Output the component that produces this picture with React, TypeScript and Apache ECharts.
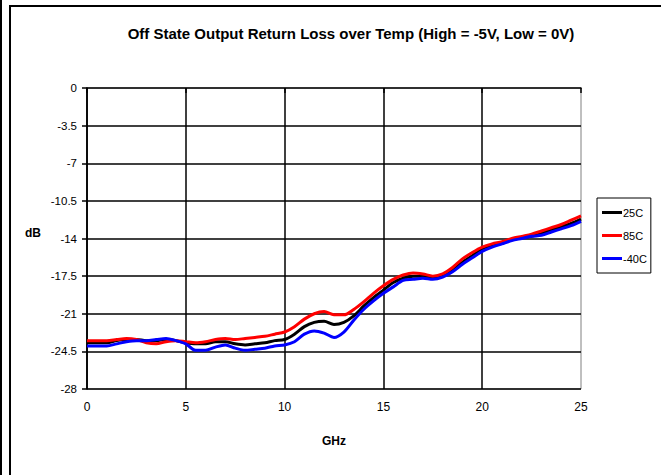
import React, { useEffect, useRef } from "react";
import * as echarts from "echarts";

const freqGHz = [
  0, 0.5, 1, 1.5, 2, 2.5, 3, 3.5, 4, 4.5, 5, 5.5, 6, 6.5, 7, 7.5, 8, 8.5, 9, 9.5,
  10, 10.5, 11, 11.5, 12, 12.5, 13, 13.5, 14, 14.5, 15, 15.5, 16, 16.5, 17, 17.5,
  18, 18.5, 19, 19.5, 20, 20.5, 21, 21.5, 22, 22.5, 23, 23.5, 24, 24.5, 25,
];

const s25C = [
  -23.7, -23.7, -23.7, -23.5, -23.4, -23.4, -23.5, -23.5, -23.4, -23.5, -23.7, -23.8, -23.8, -23.6, -23.6, -23.8, -23.9, -23.8, -23.7, -23.5,
  -23.4, -22.9, -22.2, -21.8, -21.7, -22.0, -21.8, -21.2, -20.3, -19.5, -18.8, -18.1, -17.7, -17.5, -17.5, -17.7,
  -17.5, -16.9, -16.2, -15.6, -15.0, -14.7, -14.4, -14.1, -13.9, -13.8, -13.5, -13.2, -12.9, -12.6, -12.2,
];

const s85C = [
  -23.5, -23.5, -23.5, -23.4, -23.3, -23.4, -23.7, -23.8, -23.6, -23.5, -23.6, -23.7, -23.6, -23.4, -23.3, -23.4, -23.3, -23.2, -23.1, -22.9,
  -22.7, -22.2, -21.5, -21.0, -20.8, -21.1, -21.1, -20.6, -19.9, -19.1, -18.4, -17.8, -17.4, -17.2, -17.3, -17.5,
  -17.3, -16.7, -15.9, -15.3, -14.8, -14.5, -14.3, -14.0, -13.8, -13.6, -13.3, -13.0, -12.7, -12.3, -11.9,
];

const sMinus40C = [
  -24.0, -24.0, -24.0, -23.8, -23.6, -23.5, -23.5, -23.4, -23.3, -23.5, -23.8, -24.4, -24.4, -24.1, -23.9, -24.2, -24.4, -24.3, -24.2, -24.0,
  -23.9, -23.6, -22.9, -22.6, -22.8, -23.2, -22.7, -21.6, -20.6, -19.8, -19.1, -18.5, -17.9, -17.8, -17.7, -17.8,
  -17.6, -17.1, -16.4, -15.8, -15.2, -14.8, -14.5, -14.2, -14.0, -13.8, -13.7, -13.4, -13.1, -12.8, -12.4,
];

const seriesNames = ["25C", "85C", "-40C"];
const seriesColors = ["#000000", "#ff0000", "#0000ff"];
const seriesValues = [s25C, s85C, sMinus40C];

const titleText = "Off State Output Return Loss over Temp (High = -5V, Low = 0V)";
const xName = "GHz";
const yName = "dB";

const FONT = "Liberation Sans, Arial, sans-serif";

export default function App() {
  const ref = useRef<HTMLDivElement>(null);

  useEffect(() => {
    if (!ref.current) return;
    const chart = echarts.init(ref.current, null, { renderer: "svg" });
    const series = seriesNames.map((name, i) => ({
      name,
      type: "line",
      symbol: "none",
      smooth: 0.3,
      data: freqGHz.map((f, j) => [f, seriesValues[i][j]]),
      lineStyle: { color: seriesColors[i], width: 3 },
      itemStyle: { color: seriesColors[i] },
      z: 3 + i,
    }));

    chart.setOption({
      animation: false,
      backgroundColor: "#ffffff",
      textStyle: { fontFamily: FONT },
      title: {
        text: titleText,
        left: 346,
        top: 21,
        textAlign: "center",
        textStyle: { fontFamily: FONT, fontSize: 15, fontWeight: "bold", color: "#000" },
      },
      grid: {
        left: 87,
        top: 88,
        width: 494,
        height: 301,
        show: true,
        borderColor: "#808080",
        borderWidth: 1,
        backgroundColor: "transparent",
      },
      legend: {
        orient: "vertical",
        left: 597,
        top: 198,
        data: seriesNames,
        icon: "rect",
        itemWidth: 20,
        itemHeight: 3,
        itemGap: 12,
        padding: [9, 4, 9, 5],
        borderColor: "#000",
        borderWidth: 1,
        backgroundColor: "#fff",
        textStyle: { fontFamily: FONT, fontSize: 11, color: "#000", padding: [0, 0, 0, -4] },
      },
      xAxis: {
        type: "value",
        min: 0,
        max: 25,
        interval: 5,
        axisLine: { show: true, lineStyle: { color: "#000", width: 1.5 } },
        axisTick: { show: true, length: 5, lineStyle: { color: "#000", width: 1.5 } },
        axisLabel: { fontFamily: FONT, fontSize: 12, color: "#000", margin: 12 },
        splitLine: { show: true, showMaxLine: false, lineStyle: { color: "#000", width: 1.5 } },
      },
      yAxis: {
        type: "value",
        min: -28,
        max: 0,
        interval: 3.5,
        axisLine: { show: true, lineStyle: { color: "#000", width: 1.5 } },
        axisTick: { show: true, length: 5, lineStyle: { color: "#000", width: 1.5 } },
        axisLabel: { fontFamily: FONT, fontSize: 11.5, color: "#000", margin: 10 },
        splitLine: { show: true, showMaxLine: false, lineStyle: { color: "#000", width: 1.5 } },
      },
      graphic: [
        {
          type: "line",
          shape: { x1: 1, y1: 0, x2: 1, y2: 475 },
          style: { stroke: "#000", lineWidth: 2 },
        },
        {
          type: "rect",
          shape: { x: 10, y: 6, width: 700, height: 500 },
          style: { fill: "none", stroke: "#000", lineWidth: 2 },
        },
        {
          type: "text",
          x: 33,
          y: 233,
          style: {
            text: yName,
            fontFamily: FONT,
            fontSize: 12,
            fontWeight: "bold",
            fill: "#000",
            align: "center",
            verticalAlign: "middle",
          },
        },
        {
          type: "text",
          x: 334,
          y: 441,
          style: {
            text: xName,
            fontFamily: FONT,
            fontSize: 12,
            fontWeight: "bold",
            fill: "#000",
            align: "center",
            verticalAlign: "middle",
          },
        },
      ],
      series,
    });
    return () => chart.dispose();
  }, []);

  return (
    <div
      ref={ref}
      style={{ position: "fixed", left: 0, top: 0, width: 661, height: 475 }}
    />
  );
}
